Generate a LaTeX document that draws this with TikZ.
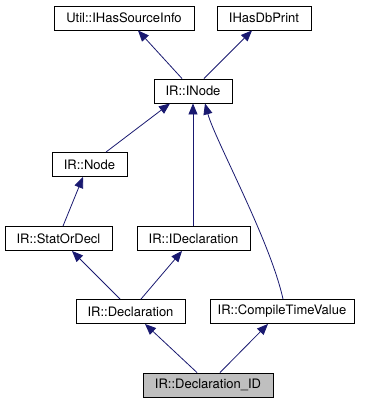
\documentclass[tikz,border=0pt]{standalone}
\usepackage{fontspec}
\setmainfont{TeX Gyre Heros}
\usetikzlibrary{arrows.meta}
\definecolor{edgeblue}{RGB}{25,25,112}
\definecolor{cur}{RGB}{191,191,191}

\begin{document}
\begin{tikzpicture}[x=1pt, y=-1pt,
  cls/.style={draw, line width=0.9pt, minimum height=24pt, inner sep=0pt,
    font=\fontsize{13}{15}\selectfont},
  inh/.style={draw=edgeblue, line width=0.8pt,
    {Triangle[length=11pt,width=9pt]}-}]
\useasboundingbox (0,0) rectangle (369,403);
\node[cls, minimum width=140pt] (util) at (124,18) {Util::IHasSourceInfo};
\node[cls, minimum width=94pt] (dbprint) at (264,18) {IHasDbPrint};
\node[cls, minimum width=78pt] (inode) at (193,91) {IR::INode};
\node[cls, minimum width=75pt] (node) at (89.5,164.5) {IR::Node};
\node[cls, minimum width=107pt] (statordecl) at (58.5,238.5) {IR::StatOrDecl};
\node[cls, minimum width=113pt] (idecl) at (193.5,238.5) {IR::IDeclaration};
\node[cls, minimum width=109pt] (decl) at (130.5,311.5) {IR::Declaration};
\node[cls, minimum width=144pt] (ctv) at (282,311.5) {IR::CompileTimeValue};
\node[cls, minimum width=130pt, fill=cur] (declid) at (208,385) {IR::Declaration\_ID};
\draw[inh] ([xshift=14pt]util.south) -- ([xshift=-11pt]inode.north);
\draw[inh] ([xshift=-12pt]dbprint.south) -- ([xshift=11pt]inode.north);
\draw[inh] ([xshift=-23pt]inode.south) -- ([xshift=16.5pt]node.north);
\draw[inh] (inode.south) -- (inode.south |- idecl.north);
\draw[inh] ([xshift=12pt]inode.south) .. controls (215,140) and (270,240) .. ([xshift=1pt]ctv.north);
\draw[inh] ([xshift=-6.5pt]node.south) -- ([xshift=4.5pt]statordecl.north);
\draw[inh] ([xshift=13.5pt]statordecl.south) -- ([xshift=-10.5pt]decl.north);
\draw[inh] ([xshift=-11.5pt]idecl.south) -- ([xshift=10.5pt]decl.north);
\draw[inh] ([xshift=14.5pt]decl.south) -- ([xshift=-11pt]declid.north);
\draw[inh] ([xshift=-14pt]ctv.south) -- ([xshift=12pt]declid.north);
\end{tikzpicture}
\end{document}
